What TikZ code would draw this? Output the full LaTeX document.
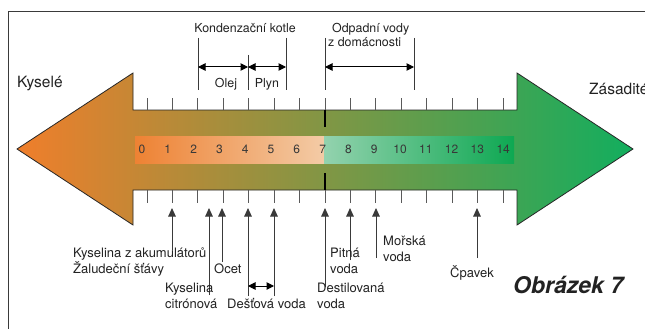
\documentclass[tikz,border=0pt]{standalone}
\usepackage{fontspec}
\setmainfont{TeX Gyre Heros}
\newfontfamily\figfont{TeX Gyre Heros}
\usetikzlibrary{arrows.meta}
\definecolor{arrL}{HTML}{F07E2B}
\definecolor{arrM}{HTML}{959A48}
\definecolor{arrR}{HTML}{12AE5E}
\definecolor{bandOa}{HTML}{EE8233}
\definecolor{bandOb}{HTML}{F3CBA6}
\definecolor{bandGa}{HTML}{93D2AE}
\definecolor{bandGb}{HTML}{0EA852}
\definecolor{inkc}{HTML}{222222}
\definecolor{linec}{HTML}{3A3A3A}
\definecolor{tickc}{HTML}{5A5A5A}
\tikzset{
  lbl/.style={font=\fontsize{13}{15.5}\selectfont, text=inkc, inner sep=0pt, anchor=base west, align=left},
  toplbl/.style={font=\fontsize{12.4}{14}\selectfont, text=inkc, inner sep=0pt, anchor=base west},
  big/.style={font=\fontsize{15.5}{18}\selectfont, text=inkc, inner sep=0pt, anchor=base west},
  num/.style={font=\fontsize{12}{14}\selectfont, text=inkc!90, inner sep=0pt, anchor=base},
  brk/.style={draw=linec, line width=0.9pt},
  tk/.style={draw=tickc, line width=0.9pt},
  uparrow/.style={draw=linec, line width=0.9pt, -{Triangle[length=8.5pt,width=7.5pt]}},
  dblarrow/.style={draw=black, line width=1pt, {Triangle[length=7.5pt,width=7.5pt]}-{Triangle[length=7.5pt,width=7.5pt]}},
  seven/.style={draw=black, line width=1.6pt}
}
\begin{document}
\begin{tikzpicture}[x=1pt,y=-1pt]
\useasboundingbox (0,0) rectangle (645,329);
\fill[white] (0,0) rectangle (645,329);
% frame
\draw[linec, line width=1pt] (8,329) -- (8,12) -- (645,12);
% big arrow
\draw[line width=0.8pt, draw=black!85, left color=arrL, middle color=arrM, right color=arrR]
  (17,149) -- (133,73) -- (133,110) -- (517,110) -- (517,73) -- (633,149)
  -- (517,225) -- (517,190) -- (133,190) -- (133,225) -- cycle;
% number band
\shade[left color=bandOa, right color=bandOb] (135,136) rectangle (324,163);
\shade[left color=bandGa, right color=bandGb] (324,136) rectangle (514,163);
\foreach \k in {0,...,14} {
  \node[num] (n\k) at ({142+25.8*\k},153) {\k};
  \draw[tk] ({147+25.43*\k},98) -- ({147+25.43*\k},110);
  \draw[tk] ({147+25.43*\k},190) -- ({147+25.43*\k},203);
}
% neutral marker
\draw[seven] (325,110) -- (325,127);
\draw[seven] (325,173) -- (325,190);
% side labels
\node[big] (kys) at (17,88) {Kyselé};
\node[big] (zas) at (589,94) {Zásadité};
% top brackets
\node[toplbl, anchor=base] (kond) at (245,33) {Kondenzační kotle};
\coordinate (ka) at (198,38); \coordinate (kab) at (198,90);
\coordinate (kb) at (248,55); \coordinate (kbb) at (248,90);
\coordinate (kc) at (286,38); \coordinate (kcb) at (286,90);
\draw[brk] (ka) -- (kab);
\draw[brk] (kb) -- (kbb);
\draw[brk] (kc) -- (kcb);
\coordinate (oa) at (198,67); \coordinate (ob) at (248,67); \coordinate (oc) at (286,67);
\draw[dblarrow] (oa) -- (ob);
\draw[dblarrow] (ob) -- (oc);
\node[toplbl, anchor=base] (olej) at (226,88) {Olej};
\node[toplbl, anchor=base] (plyn) at (267,88) {Plyn};
\node[toplbl] (odp1) at (332,33) {Odpadní vody};
\node[toplbl] (odp2) at (328,47) {z domácnosti};
\coordinate (da) at (325,38); \coordinate (dab) at (325,90);
\coordinate (db) at (414,38); \coordinate (dbb) at (414,90);
\draw[brk] (da) -- (dab);
\draw[brk] (db) -- (dbb);
\coordinate (pa) at (325,67); \coordinate (pb) at (414,67);
\draw[dblarrow] (pa) -- (pb);
% bottom pointers
\coordinate (t1) at (172,208); \coordinate (e1) at (172,250);
\coordinate (t2) at (209,208); \coordinate (e2) at (209,295);
\coordinate (t3) at (222,208); \coordinate (e3) at (222,262);
\coordinate (t4) at (248,208); \coordinate (e4) at (248,296);
\coordinate (t5) at (274,208); \coordinate (e5) at (274,296);
\coordinate (t7) at (325,208); \coordinate (e7) at (325,287);
\coordinate (t8) at (350,208); \coordinate (e8) at (350,260);
\coordinate (t9) at (376,208); \coordinate (e9) at (376,258);
\coordinate (t13) at (477,208); \coordinate (e13) at (477,258);
\foreach \i in {1,2,3,4,5,7,8,9,13} { \draw[uparrow] (e\i) -- (t\i); }
\coordinate (ra) at (248,286); \coordinate (rb) at (274,286);
\draw[dblarrow] (ra) -- (rb);
\node[lbl] (akum) at (73,273) {Kyselina z akumulátorů\\Žaludeční šťávy};
\node[lbl] (citr) at (165,308) {Kyselina\\citrónová};
\node[lbl] (ocet) at (214,273) {Ocet};
\node[lbl] (dest) at (227,308) {Dešťová voda};
\node[lbl] (dstl) at (317,308) {Destilovaná\\voda};
\node[lbl] (pitn) at (330,273) {Pitná\\voda};
\node[lbl] (mors) at (383,261) {Mořská\\voda};
\node[lbl] (cpav) at (450,277) {Čpavek};
\node[font=\figfont\bfseries\itshape\fontsize{23}{25}\selectfont, text=inkc, inner sep=0pt, anchor=base west] (obr) at (513,293) {Obrázek 7};
\end{tikzpicture}
\end{document}
